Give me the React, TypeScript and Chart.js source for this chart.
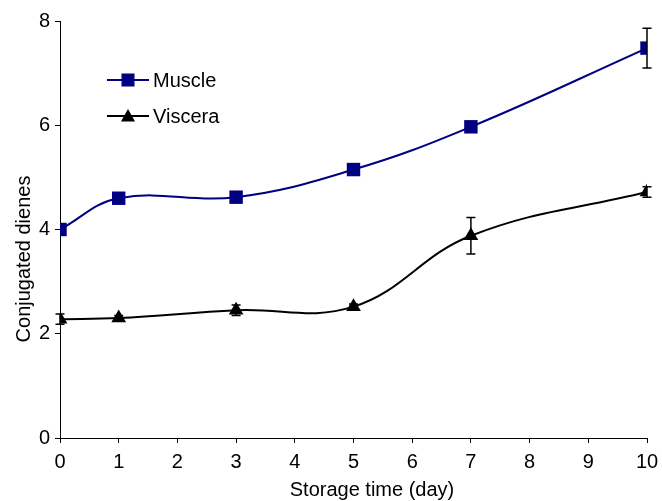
import React, { useEffect, useRef } from "react";
import { Chart, registerables } from "chart.js";

Chart.register(...registerables);

const days = [0, 1, 3, 5, 7, 10];
const muscle = [4.0, 4.6, 4.62, 5.15, 5.97, 7.48];
const muscleErr = [0, 0, 0, 0, 0, 0.38];
const viscera = [2.28, 2.3, 2.45, 2.52, 3.88, 4.72];
const visceraErr = [0.1, 0.05, 0.1, 0.05, 0.35, 0.1];
const seriesNames = ["Muscle", "Viscera"];
const xTicks = [0, 1, 2, 3, 4, 5, 6, 7, 8, 9, 10];
const yTicks = [0, 2, 4, 6, 8];
const xTitle = "Storage time (day)";
const yTitle = "Conjugated dienes";

const FONT = "'Liberation Sans', Arial, sans-serif";
const NAVY = "#000080";
const FS = 20;

const errorBarPlugin = {
  id: "errorBars",
  afterDatasetsDraw(chart: any) {
    const ctx = chart.ctx;
    const xs = chart.scales.x;
    const ys = chart.scales.y;
    const errs = [muscleErr, visceraErr];
    const vals = [muscle, viscera];
    ctx.save();
    ctx.strokeStyle = "#000";
    ctx.lineWidth = 1.5;
    errs.forEach((arr, di) => {
      arr.forEach((e, i) => {
        if (!e) return;
        const x = xs.getPixelForValue(days[i]);
        const yT = ys.getPixelForValue(vals[di][i] + e);
        const yB = ys.getPixelForValue(vals[di][i] - e);
        ctx.beginPath();
        ctx.moveTo(x, yT);
        ctx.lineTo(x, yB);
        ctx.moveTo(x - 4.5, yT);
        ctx.lineTo(x + 4.5, yT);
        ctx.moveTo(x - 4.5, yB);
        ctx.lineTo(x + 4.5, yB);
        ctx.stroke();
      });
    });
    ctx.restore();
  },
};

const legendPlugin = {
  id: "customLegend",
  afterDraw(chart: any) {
    const ctx = chart.ctx;
    const items = [
      { label: seriesNames[0], color: NAVY, style: "rect", y: 80 },
      { label: seriesNames[1], color: "#000", style: "triangle", y: 116 },
    ];
    ctx.save();
    items.forEach((it) => {
      ctx.strokeStyle = it.color;
      ctx.lineWidth = 2;
      ctx.beginPath();
      ctx.moveTo(107, it.y);
      ctx.lineTo(149, it.y);
      ctx.stroke();
      ctx.fillStyle = it.color;
      if (it.style === "rect") {
        ctx.fillRect(128 - 6.5, it.y - 6.5, 13, 13);
      } else {
        ctx.beginPath();
        ctx.moveTo(128, it.y - 7);
        ctx.lineTo(135, it.y + 5.5);
        ctx.lineTo(121, it.y + 5.5);
        ctx.closePath();
        ctx.fill();
      }
      ctx.fillStyle = "#000";
      ctx.font = `${FS}px ${FONT}`;
      ctx.textBaseline = "middle";
      ctx.textAlign = "left";
      ctx.fillText(it.label, 153, it.y + 1);
    });
    // axis titles
    ctx.fillStyle = "#000";
    ctx.font = `${FS}px ${FONT}`;
    ctx.textAlign = "center";
    ctx.textBaseline = "middle";
    ctx.fillText(xTitle, 372, 490);
    ctx.translate(24, 259);
    ctx.rotate(-Math.PI / 2);
    ctx.fillText(yTitle, 0, 0);
    ctx.restore();
  },
};

export default function App() {
  const ref = useRef<HTMLCanvasElement>(null);
  useEffect(() => {
    document.body.style.margin = "0";
    const chart = new Chart(ref.current!, {
      type: "line",
      data: {
        datasets: [
          {
            label: seriesNames[0],
            data: days.map((d, i) => ({ x: d, y: muscle[i] })),
            borderColor: NAVY,
            backgroundColor: NAVY,
            borderWidth: 2,
            pointStyle: "rect",
            pointRadius: 9.5,
            pointBorderWidth: 0,
            tension: 0.4,
          },
          {
            label: seriesNames[1],
            data: days.map((d, i) => ({ x: d, y: viscera[i] })),
            borderColor: "#000",
            backgroundColor: "#000",
            borderWidth: 2,
            pointStyle: "triangle",
            pointRadius: 8.5,
            pointBorderWidth: 0,
            tension: 0.4,
          },
        ],
      },
      options: {
        animation: false,
        responsive: false,
        maintainAspectRatio: false,
        layout: { padding: { top: 21, right: 15, left: 0, bottom: 0 } },
        plugins: { legend: { display: false }, tooltip: { enabled: false } },
        scales: {
          x: {
            type: "linear",
            min: 0,
            max: 10,
            afterBuildTicks: (s: any) => {
              s.ticks = xTicks.map((v) => ({ value: v }));
            },
            afterFit: (s: any) => {
              s.height = 63;
              s.paddingLeft = 0;
              s.paddingRight = 0;
            },
            grid: { drawOnChartArea: false, drawTicks: true, tickLength: 5, color: "#000" },
            border: { display: true, color: "#000", width: 1 },
            ticks: { color: "#000", font: { family: FONT, size: FS }, padding: 7, maxRotation: 0 },
            title: { display: false },
          },
          y: {
            type: "linear",
            min: 0,
            max: 8,
            afterBuildTicks: (s: any) => {
              s.ticks = yTicks.map((v) => ({ value: v }));
            },
            afterFit: (s: any) => {
              s.width = 60;
              s.paddingTop = 0;
              s.paddingBottom = 0;
            },
            grid: { drawOnChartArea: false, drawTicks: true, tickLength: 5, color: "#000" },
            border: { display: true, color: "#000", width: 1 },
            ticks: { color: "#000", font: { family: FONT, size: FS }, padding: 5 },
            title: { display: false },
          },
        },
      },
      plugins: [errorBarPlugin, legendPlugin],
    } as any);
    return () => chart.destroy();
  }, []);
  return (
    <div style={{ width: 662, height: 501, background: "#fff" }}>
      <canvas ref={ref} width={662} height={501} style={{ display: "block" }} />
    </div>
  );
}
